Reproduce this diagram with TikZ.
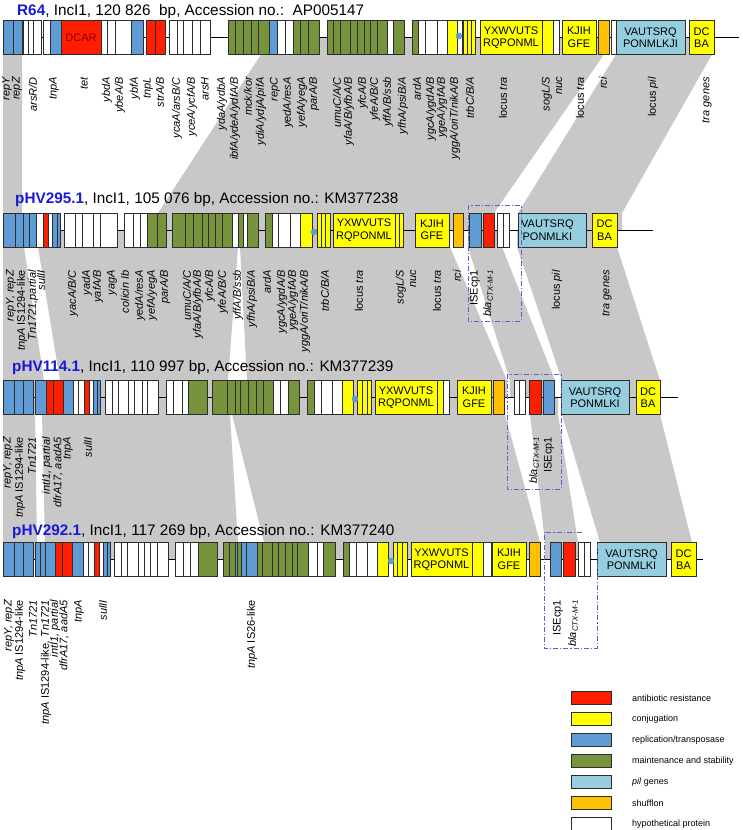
\documentclass[tikz,border=0pt]{standalone}
\usepackage{fontspec}
\setmainfont{Liberation Sans}
\definecolor{cr}{RGB}{255,30,0}
\definecolor{cy}{RGB}{255,255,0}
\definecolor{cb}{RGB}{95,155,213}
\definecolor{cg}{RGB}{119,147,60}
\definecolor{cp}{RGB}{150,206,224}
\definecolor{co}{RGB}{255,192,0}
\definecolor{cw}{RGB}{255,255,255}
\definecolor{bord}{RGB}{45,45,45}
\definecolor{bandc}{RGB}{200,200,200}
\definecolor{tblue}{RGB}{25,25,215}
\definecolor{dcar}{RGB}{140,0,0}
\definecolor{dashc}{RGB}{95,95,210}
\newcommand\generow[2]{\foreach \a/\b/\c in {#2} {\filldraw[fill=\c,draw=bord,line width=0.8pt] (\a,#1-17) rectangle (\b,#1+17);}}
\newcommand\labs[2]{\foreach \x/\t in {#2} {\node[lab] at (\x,#1) {\t};}}
\newcommand\blactx{\textit{bla}\textsubscript{\textit{CTX-M-1}}}
% homology band: upper row centre, lower row centre, upper-left x, upper-right x, lower-left x, lower-right x
\newcommand\hband[6]{\fill[bandc] (#3,#1) -- (#3,#1+17) -- (#5,#2-17) -- (#5,#2) -- (#6,#2) -- (#6,#2-17) -- (#4,#1+17) -- (#4,#1) -- cycle;}
\begin{document}
\begin{tikzpicture}[x=1pt,y=-1pt,
  lab/.style={rotate=90,anchor=east,inner sep=0pt,font=\fontsize{11}{12.4}\selectfont\itshape,align=right},
  boxt/.style={inner sep=0pt,font=\fontsize{11}{12.5}\selectfont,align=center},
  ttl/.style={anchor=west,inner sep=0pt,font=\fontsize{15.3}{17}\selectfont},
  bb/.style={draw=black,line width=1pt},
  dbox/.style={draw=dashc,line width=1pt,dash pattern=on 5pt off 2pt on 1.2pt off 2pt},
  legt/.style={anchor=west,inner sep=0pt,font=\fontsize{9}{11}\selectfont}]
\useasboundingbox (0,0) rectangle (742,830);
% ---------- homology bands ----------
\hband{37.5}{230}{3}{22}{3}{22}
\hband{37.5}{230}{261}{604}{158}{494}
\hband{37.5}{230}{616}{712}{518}{622}
\hband{230}{397.5}{3}{24}{3}{44}
\hband{230}{397.5}{38}{238}{60}{228}
\hband{230}{397.5}{240}{450}{247}{507}
\hband{230}{397.5}{468}{502}{510}{555}
\hband{230}{397.5}{517}{617}{562}{660}
\hband{397.5}{559.5}{3}{35}{3}{37}
\hband{397.5}{559.5}{42}{230}{45}{238}
\hband{397.5}{559.5}{232}{505}{264}{540}
\hband{397.5}{559.5}{530}{558}{545}{578}
\hband{397.5}{559.5}{562}{660}{600}{692}
% ---------- backbones ----------
\draw[bb] (3,37.5) -- (739,37.5);
\draw[bb] (3,230) -- (653,230);
\draw[bb] (3,397.5) -- (678,397.5);
\draw[bb] (3,559.5) -- (703,559.5);
% ---------- R64 ----------
\generow{37.5}{3/13/cb,13/22/cb,23/28/cw,28/33/cw,33/41/cw,43/50/cw,50/61/cb,61/101/cr,101/107/cw,107/115/cw,115/131/cw,131/143/cb,146/155/cr,155/165/cr,169/177/cw,177/183/cw,183/192/cw,192/200/cw,200/210/cw,228/235/cg,235/243/cg,243/251/cg,251/258/cg,258/269/cg,269/277/cb,277/285/cw,285/293/cw,293/300/cg,300/308/cg,308/319/cg,327/333/cg,333/340/cg,340/350/cg,350/357/cg,357/364/cg,364/370/cg,370/377/cg,377/387/cg,387/393/cw,393/404/cg,412/418/cg,418/425/cw,425/437/cw,437/447/cw,447/457/cy,457/462/cw,463/467/cy,467/471/cy,471/475/cy,480/542/cy,542/553/cy,553/559/cw,562/596/cy,598/609/co,611/616/cw,616/685/cp,689/714/cy}
\fill[cb] (459,36) circle (3.3);
\node[boxt,text=dcar] (dcar) at (81,37.5) {DCAR};
\node[boxt] (r64a) at (511,37.5) {YXWVUTS\\RQPONML};
\node[boxt] (r64b) at (579,37.5) {KJIH\\GFE};
\node[boxt] (r64c) at (650.5,37.5) {VAUTSRQ\\PONMLKJI};
\node[boxt] (r64d) at (701.5,37.5) {DC\\BA};
\labs{77}{7/{repY},17/{repZ},33/{arsR/D},54/{tnpA},84/{tet},107/{ybdA},120/{ybeA/B},135/{ybfA},148/{tnpL},160/{strA/B},177/{ycaA/arsB/C},192/{yceA/ycfA/B},205/{arsH},222/{ydaA/ydbA},235/{ibfA/ydeA/ydfA/B},248/{mck/kor},261/{ydiA/ydjA/pifA},275/{repC},288/{yedA/resA},302/{yefA/yegA},314/{parA/B},337/{umuC/A/C},349/{yfaA/B/yfbA/B},363/{yfcA/B},375/{yfeA/B/C},388/{yffA/B/ssb},403/{yfhA/psiB/A},417/{ardA},431/{ygcA/ygdA/B},442/{ygeA/ygfA/B},455/{yggA/oriT/nikA/B},470/{trbC/B/A},503/{{\upshape locus} tra},552/{sogL/S\\nuc},580/{{\upshape locus} tra},603/{rci},653/{{\upshape locus} pil},707/{tra genes}}
\node[ttl] (t1) at (17,12) {\textcolor{tblue}{\textbf{R64}}, IncI1, 120 826\ \ bp, Accession no.:\ \ AP005147};
% ---------- pHV295.1 ----------
\generow{230}{3/15/cb,15/23/cb,23/29/cb,29/36/cb,36/43/cw,43/48/cr,48/52/cw,52/57/cb,57/60/cb,64/75/cw,75/82/cw,82/93/cw,93/100/cw,100/117/cw,124/133/cw,133/140/cw,140/147/cw,147/157/cg,157/166/cg,172/185/cg,185/193/cg,193/202/cg,202/208/cg,208/215/cg,215/222/cg,222/232/cg,232/238/cw,238/243/cg,243/247/cw,247/258/cg,265/272/cg,272/278/cw,278/290/cw,290/300/cw,300/312/cy,317/321/cy,321/325/cy,325/330/cy,333/395/cy,395/399/cy,399/403/cy,415/449/cy,453/463/co,469/481/cb,483/494/cr,497/503/cw,503/509/cw,518/586/cp,592/617/cy}
\fill[cb] (314,232) circle (3.3);
\node[boxt] (p1a) at (364,230) {YXWVUTS\\RQPONML};
\node[boxt] (p1b) at (432,230) {KJIH\\GFE};
\node[boxt,anchor=west] (p1c) at (521,230) {VAUTSRQ\\PONMLKI};
\node[boxt] (p1d) at (604.5,230) {DC\\BA};
\labs{270}{11/{repY, repZ},22/{tnpA {\upshape IS1294-like}},33/{Tn1721,partial},41/{sulII},73/{yacA/B/C},87/{yadA},98/{yafA/B},112/{yagA},125/{colicin Ib},140/{yedA/resA},152/{yefA/yegA},165/{parA/B},187/{umuC/A/C},198/{yfaA/B/yfbA/B},210/{yfcA/B},223/{yfeA/B/C},238/{yffA/B/ssb},252/{yfhA/psiB/A},267/{ardA},282/{ygcA/ygdA/B},293/{ygeA/ygfA/B},305/{yggA/oriT/nikA/B},325/{trbC/B/A},359/{{\upshape locus} tra},406/{sogL/S\\nuc},437/{{\upshape locus} tra},457/{rci},475/{{\upshape ISEcp1}},488/{\blactx},557/{{\upshape locus} pil},607/{tra genes}}
\node[ttl] (t2) at (15,200) {\textcolor{tblue}{\textbf{pHV295.1}}, IncI1, 105 076 bp, Accession no.: KM377238};
\draw[dbox] (468,205) rectangle (521,321);
% ---------- pHV114.1 ----------
\generow{397.5}{3/14/cb,14/23/cb,23/33/cb,35/46/cb,46/53/cr,53/63/cr,63/73/cb,73/78/cw,78/84/cw,84/89/cr,89/93/cw,93/97/cb,97/100/cb,105/112/cw,112/118/cw,118/128/cw,128/134/cw,134/142/cw,142/147/cw,147/158/cw,166/173/cw,173/182/cw,182/188/cw,188/207/cg,212/227/cg,227/235/cg,235/240/cg,240/248/cg,248/256/cg,256/263/cg,263/273/cg,273/280/cw,280/288/cw,288/299/cg,307/314/cg,314/321/cw,321/332/cw,332/342/cw,342/353/cy,357/362/cy,362/367/cy,367/371/cy,375/437/cy,437/443/cy,443/449/cw,457/491/cy,493/504/co,514/519/cw,519/525/cw,529/541/cr,543/554/cb,561/629/cp,636/660/cy}
\fill[cb] (355,399) circle (3.3);
\node[boxt] (p2a) at (406,397.5) {YXWVUTS\\RQPONML};
\node[boxt] (p2b) at (474,397.5) {KJIH\\GFE};
\node[boxt] (p2c) at (595,397.5) {VAUTSRQ\\PONMLKI};
\node[boxt] (p2d) at (648,397.5) {DC\\BA};
\labs{437}{8/{repY, repZ},20/{tnpA {\upshape IS1294-like}},32/{Tn1721},47/{intI1, partial},58/{dfrA17, aadA5},68/{tnpA},88/{sulII},534/{\blactx},549/{{\upshape ISEcp1}}}
\node[ttl] (t3) at (12,368) {\textcolor{tblue}{\textbf{pHV114.1}}, IncI1, 110 997 bp, Accession no.: KM377239};
\draw[dbox] (507,374) rectangle (561,489);
% ---------- pHV292.1 ----------
\generow{559.5}{3/14/cb,14/23/cb,23/33/cb,35/40/cb,40/45/cb,45/55/cb,55/62/cr,62/72/cr,72/83/cb,83/88/cw,88/94/cw,94/99/cr,99/103/cw,103/107/cb,107/110/cb,114/121/cw,121/127/cw,127/138/cw,138/144/cw,144/150/cw,150/157/cw,157/168/cw,175/183/cw,183/190/cw,190/198/cw,198/217/cg,223/229/cg,229/235/cg,235/237/cb,237/241/cg,241/246/cb,246/257/cb,257/262/cg,262/272/cg,272/278/cg,278/285/cg,285/292/cg,292/297/cg,297/308/cg,308/317/cw,317/323/cw,323/335/cg,343/349/cg,349/356/cw,356/367/cw,367/377/cw,377/388/cy,393/397/cy,397/402/cy,402/407/cy,411/472/cy,472/483/cy,483/491/cw,492/526/cy,529/540/co,550/561/cb,563/575/cr,578/584/cw,584/590/cw,597/666/cp,671/696/cy}
\fill[cb] (391,561) circle (3.3);
\node[boxt] (p3a) at (441.5,559.5) {YXWVUTS\\RQPONML};
\node[boxt] (p3b) at (509,559.5) {KJIH\\GFE};
\node[boxt] (p3c) at (631.5,559.5) {VAUTSRQ\\PONMLKI};
\node[boxt] (p3d) at (683.5,559.5) {DC\\BA};
\labs{600}{9/{repY, repZ},20/{tnpA {\upshape IS1294-like}},33/{Tn1721},46/{tnpA {\upshape IS1294-like}, Tn1721},55/{intI1, partial},64/{dfrA17, aadA5},79/{tnpA},103/{sulII},252/{tnpA {\upshape IS26-like}},558/{{\upshape ISEcp1}},573/{\blactx}}
\node[ttl] (t4) at (12,532) {\textcolor{tblue}{\textbf{pHV292.1}}, IncI1, 117 269 bp, Accession no.: KM377240};
\draw[dbox] (582,532) -- (544,532) -- (544,648) -- (597,648) -- (597,543);
% ---------- legend ----------
\foreach \c/\t/\yy in {cr/{antibiotic resistance}/698,cy/{conjugation}/719,cb/{replication/transposase}/740,cg/{maintenance and stability}/761,cp/{\textit{pil} genes}/782,co/{shufflon}/803,cw/{hypothetical protein}/824}{
  \filldraw[fill=\c,draw=bord,line width=0.8pt] (571,\yy-6.5) rectangle (611,\yy+6.5);
  \node[legt] at (632,\yy) {\t};
}
\end{tikzpicture}
\end{document}
